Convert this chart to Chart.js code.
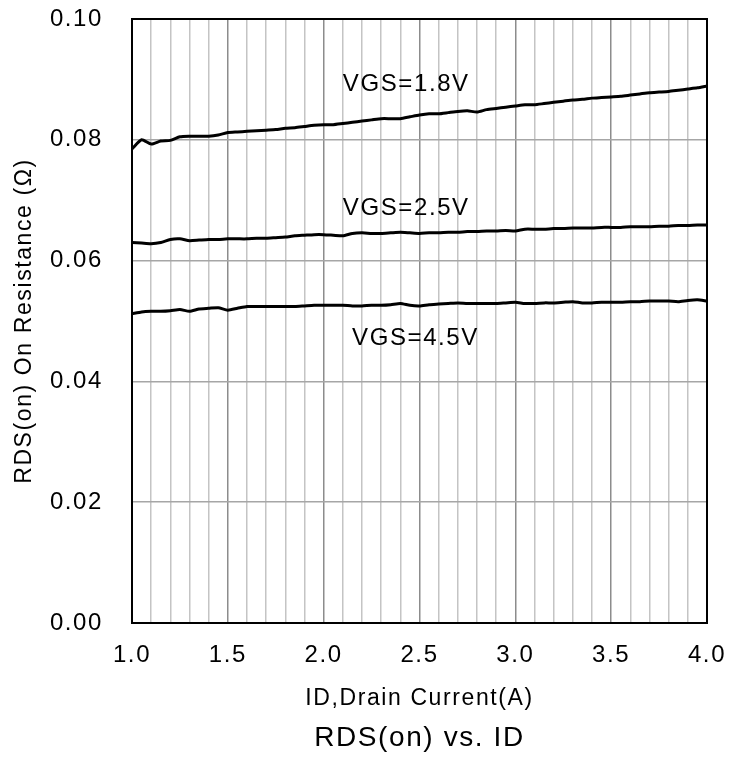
<!DOCTYPE html>
<html>
<head>
<meta charset="utf-8">
<title>RDS(on) vs. ID</title>
<script src="https://cdn.jsdelivr.net/npm/chart.js@4.4.1/dist/chart.umd.min.js"></script>
<style>
  html, body { margin: 0; padding: 0; background: #fff; }
  #wrap { width: 736px; height: 758px; }
</style>
</head>
<body>
<div id="wrap"><canvas id="rdsChart"></canvas></div>
<script>
// Drain current (A), read every 0.05 A
const drainCurrent = [
  1.00, 1.05, 1.10, 1.15, 1.20, 1.25, 1.30, 1.35, 1.40, 1.45,
  1.50, 1.55, 1.60, 1.65, 1.70, 1.75, 1.80, 1.85, 1.90, 1.95,
  2.00, 2.05, 2.10, 2.15, 2.20, 2.25, 2.30, 2.35, 2.40, 2.45,
  2.50, 2.55, 2.60, 2.65, 2.70, 2.75, 2.80, 2.85, 2.90, 2.95,
  3.00, 3.05, 3.10, 3.15, 3.20, 3.25, 3.30, 3.35, 3.40, 3.45,
  3.50, 3.55, 3.60, 3.65, 3.70, 3.75, 3.80, 3.85, 3.90, 3.95,
  4.00
];

// RDS(on) in ohms for each gate voltage
const rdsVgs18 = [
  0.0785, 0.0800, 0.0793, 0.0798, 0.0799, 0.0805, 0.0806, 0.0806, 0.0806, 0.0808,
  0.0812, 0.0813, 0.0814, 0.0815, 0.0816, 0.0817, 0.0819, 0.0820, 0.0822, 0.0824,
  0.0825, 0.0825, 0.0827, 0.0829, 0.0831, 0.0833, 0.0835, 0.0835, 0.0835, 0.0838,
  0.0841, 0.0843, 0.0843, 0.0845, 0.0847, 0.0848, 0.0846, 0.0850, 0.0852, 0.0854,
  0.0856, 0.0858, 0.0858, 0.0860, 0.0862, 0.0864, 0.0866, 0.0867, 0.0869, 0.0870,
  0.0871, 0.0872, 0.0874, 0.0876, 0.0878, 0.0879, 0.0880, 0.0882, 0.0884, 0.0886,
  0.0889
];
const rdsVgs25 = [
  0.0630, 0.0629, 0.0628, 0.0630, 0.0635, 0.0636, 0.0633, 0.0634, 0.0635, 0.0635,
  0.0636, 0.0636, 0.0636, 0.0637, 0.0637, 0.0638, 0.0639, 0.0641, 0.0642, 0.0643,
  0.0643, 0.0642, 0.0641, 0.0645, 0.0646, 0.0645, 0.0645, 0.0646, 0.0647, 0.0646,
  0.0645, 0.0646, 0.0646, 0.0647, 0.0647, 0.0648, 0.0648, 0.0649, 0.0649, 0.0650,
  0.0649, 0.0652, 0.0652, 0.0652, 0.0653, 0.0653, 0.0654, 0.0654, 0.0654, 0.0655,
  0.0655, 0.0655, 0.0656, 0.0656, 0.0656, 0.0657, 0.0657, 0.0658, 0.0658, 0.0659,
  0.0659
];
const rdsVgs45 = [
  0.0512, 0.0515, 0.0516, 0.0516, 0.0517, 0.0519, 0.0516, 0.0520, 0.0521, 0.0522,
  0.0518, 0.0521, 0.0524, 0.0524, 0.0524, 0.0524, 0.0524, 0.0524, 0.0525, 0.0526,
  0.0526, 0.0526, 0.0526, 0.0525, 0.0525, 0.0526, 0.0526, 0.0527, 0.0529, 0.0526,
  0.0525, 0.0527, 0.0528, 0.0529, 0.0530, 0.0529, 0.0529, 0.0529, 0.0529, 0.0530,
  0.0531, 0.0529, 0.0529, 0.0530, 0.0530, 0.0531, 0.0532, 0.0530, 0.0530, 0.0531,
  0.0531, 0.0531, 0.0532, 0.0532, 0.0533, 0.0533, 0.0533, 0.0532, 0.0534, 0.0535,
  0.0533
];

// curve labels and where they sit (data units: A, ohm)
const curveLabels = ["VGS=1.8V", "VGS=2.5V", "VGS=4.5V"];
const curveLabelAtX = [2.10, 2.10, 2.148];
const curveLabelAtY = [0.0891, 0.0687, 0.0471];

const chartTitle = "RDS(on) vs. ID";

const FONT = '"Liberation Sans", Arial, Helvetica, sans-serif';
const SPACING = "1.6px";

Chart.defaults.font.family = FONT;
Chart.defaults.color = "#000";

function toPoints(ys) {
    return drainCurrent.map((x, i) => ({ x: x, y: ys[i] }));
}

function isHalfStep(v) {
    return Math.abs(v * 2 - Math.round(v * 2)) < 1e-6;
}

// the reference text is set a bit wide, so widen the canvas letters
const letterSpacing = {
    id: "letterSpacing",
    beforeLayout(chart) { chart.ctx.letterSpacing = SPACING; },
    beforeDraw(chart) { chart.ctx.letterSpacing = SPACING; }
};

// black box round the plot area
const plotFrame = {
    id: "plotFrame",
    beforeDatasetsDraw(chart) {
        const { ctx, chartArea: a } = chart;
        ctx.save();
        ctx.strokeStyle = "#000";
        ctx.lineWidth = 2;
        ctx.strokeRect(a.left, a.top, a.right - a.left, a.bottom - a.top);
        ctx.restore();
    }
};

// curve names inside the plot, and the caption under the x axis title
const chartText = {
    id: "chartText",
    afterDatasetsDraw(chart) {
        const { ctx, scales, chartArea: a } = chart;
        ctx.save();
        ctx.letterSpacing = SPACING;
        ctx.fillStyle = "#000";
        ctx.textBaseline = "middle";
        ctx.font = "24px " + FONT;
        ctx.textAlign = "left";
        curveLabels.forEach((text, i) => {
            ctx.fillText(text,
                scales.x.getPixelForValue(curveLabelAtX[i]),
                scales.y.getPixelForValue(curveLabelAtY[i]));
        });
        ctx.font = "28px " + FONT;
        ctx.textAlign = "center";
        ctx.fillText(chartTitle, (a.left + a.right) / 2, chart.height - 20);
        ctx.restore();
    }
};

const lineStyle = {
    borderColor: "#000",
    borderWidth: 3,
    pointRadius: 0,
    fill: false,
    tension: 0.2
};

new Chart(document.getElementById("rdsChart"), {
    type: "line",
    data: {
        datasets: [
            { label: curveLabels[0], data: toPoints(rdsVgs18), ...lineStyle },
            { label: curveLabels[1], data: toPoints(rdsVgs25), ...lineStyle },
            { label: curveLabels[2], data: toPoints(rdsVgs45), ...lineStyle }
        ]
    },
    options: {
        responsive: true,
        maintainAspectRatio: false,
        animation: false,
        layout: { padding: { top: 19, right: 29, left: 0, bottom: 37 } },
        plugins: {
            legend: { display: false },
            tooltip: { enabled: false },
            title: { display: false }
        },
        scales: {
            x: {
                type: "linear",
                min: 1.0,
                max: 4.0,
                afterFit(scale) {
                    scale.height = 98;
                    scale.paddingLeft = 0;
                    scale.paddingRight = 0;
                },
                border: { display: false },
                grid: {
                    drawTicks: false,
                    lineWidth: 1.5,
                    color: (c) => isHalfStep(c.tick.value) ? "#8c8c8c" : "#c4c4c4"
                },
                ticks: {
                    stepSize: 0.1,
                    autoSkip: false,
                    maxTicksLimit: 100,
                    maxRotation: 0,
                    padding: 18,
                    font: { size: 24 },
                    callback: (v) => isHalfStep(v) ? v.toFixed(1) : ""
                },
                title: {
                    display: true,
                    text: "ID,Drain Current(A)",
                    font: { size: 23 },
                    padding: { top: 0, bottom: 9 }
                }
            },
            y: {
                min: 0,
                max: 0.1,
                afterFit(scale) {
                    scale.width = 132;
                    scale.paddingTop = 0;
                    scale.paddingBottom = 0;
                },
                border: { display: false },
                grid: {
                    drawTicks: false,
                    lineWidth: 1.5,
                    color: "#a6a6a6"
                },
                ticks: {
                    stepSize: 0.02,
                    padding: 29,
                    font: { size: 24 },
                    callback: (v) => v.toFixed(2)
                },
                title: {
                    display: true,
                    text: "RDS(on) On Resistance (Ω)",
                    font: { size: 23 },
                    padding: { top: 11, bottom: 0 }
                }
            }
        }
    },
    plugins: [letterSpacing, plotFrame, chartText]
});
</script>
</body>
</html>
